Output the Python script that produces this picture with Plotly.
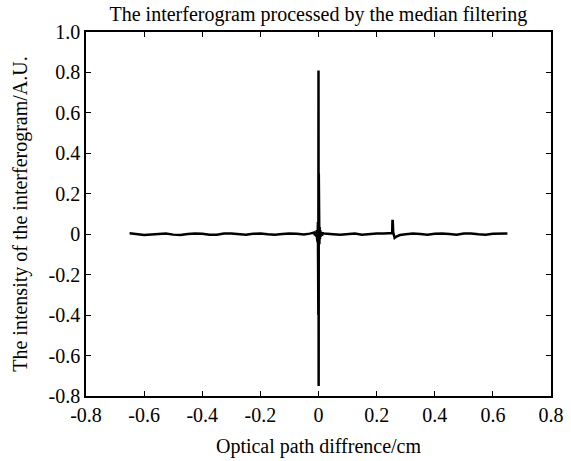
import plotly.graph_objects as go

# Optical path difference (cm) and interferogram intensity (A.U.)
x_left = [-0.65, -0.625, -0.6, -0.575, -0.55, -0.525, -0.5, -0.475, -0.45, -0.425, -0.4,
          -0.375, -0.35, -0.325, -0.3, -0.275, -0.25, -0.225, -0.2, -0.175, -0.15, -0.125,
          -0.1, -0.075, -0.05, -0.03, -0.02]
y_left = [0.005, 0.001, -0.004, -0.001, 0.003, 0.004, -0.002, -0.004, 0.001, 0.004, 0.002,
          -0.003, -0.002, 0.003, 0.004, -0.001, -0.003, 0.002, 0.004, 0.000, -0.003, 0.001,
          0.004, 0.002, -0.001, 0.003, 0.006]

x_center = [-0.015, -0.012, -0.01, -0.008, -0.006, -0.005, -0.004, -0.003, -0.002, -0.0015,
            -0.001, -0.0005, 0.0, 0.0005, 0.001, 0.0015, 0.002, 0.003, 0.004, 0.005, 0.006,
            0.008, 0.01, 0.012, 0.015]
y_center = [0.008, -0.006, 0.012, -0.012, 0.02, -0.02, 0.03, -0.04, 0.06, -0.11,
            0.29, -0.4, 0.81, -0.75, 0.3, -0.12, 0.07, -0.05, 0.035, -0.025, 0.02,
            -0.012, 0.01, -0.006, 0.005]

x_mid = [0.02, 0.03, 0.05, 0.075, 0.1, 0.125, 0.15, 0.175, 0.2, 0.225, 0.24, 0.25,
         0.2535, 0.2545, 0.2555, 0.257, 0.262, 0.27, 0.28]
y_mid = [0.004, 0.002, 0.000, -0.003, 0.001, 0.003, -0.002, 0.002, 0.003, 0.004, 0.004, 0.005,
         0.006, 0.066, 0.066, 0.01, -0.018, -0.01, -0.004]

x_right = [0.3, 0.325, 0.35, 0.375, 0.4, 0.425, 0.45, 0.475, 0.5, 0.525, 0.55, 0.575,
           0.6, 0.625, 0.65]
y_right = [0.000, 0.003, 0.001, -0.002, 0.002, 0.004, 0.001, -0.002, 0.003, 0.004, 0.000,
           -0.002, 0.002, 0.003, 0.004]

x_all = x_left + x_center + x_mid + x_right
y_all = y_left + y_center + y_mid + y_right

x_ticks = [-0.8, -0.6, -0.4, -0.2, 0, 0.2, 0.4, 0.6, 0.8]
x_ticktext = ["-0.8", "-0.6", "-0.4", "-0.2", "0", "0.2", "0.4", "0.6", "0.8"]
y_ticks = [-0.8, -0.6, -0.4, -0.2, 0, 0.2, 0.4, 0.6, 0.8, 1.0]
y_ticktext = ["-0.8", "-0.6", "-0.4", "-0.2", "0", "0.2", "0.4", "0.6", "0.8", "1.0"]

font_family = "Liberation Serif"
fs = 20

fig = go.Figure()
fig.add_trace(go.Scatter(x=x_all, y=y_all, mode="lines",
                         line=dict(color="black", width=2.5), showlegend=False,
                         hoverinfo="skip"))

fig.update_layout(
    width=571, height=461,
    margin=dict(l=86, r=20, t=32, b=65),
    paper_bgcolor="white", plot_bgcolor="white",
    font=dict(family=font_family, size=fs, color="black"),
    title=dict(text="The interferogram processed by the median filtering",
               x=0.5575, xanchor="center", y=0.969, yanchor="middle",
               font=dict(family=font_family, size=fs, color="black")),
    xaxis=dict(range=[-0.8, 0.8], tickvals=x_ticks, ticktext=x_ticktext,
               automargin=False,
               showgrid=False, zeroline=False, showline=True, linecolor="black",
               linewidth=1.5, mirror="ticks", ticks="inside", ticklen=5,
               tickcolor="black", tickwidth=1.2,
               tickfont=dict(family=font_family, size=fs),
               title=dict(text="Optical path diffrence/cm", standoff=14,
                          font=dict(family=font_family, size=fs))),
    yaxis=dict(range=[-0.8, 1.0], tickvals=y_ticks, ticktext=y_ticktext,
               automargin=False,
               showgrid=False, zeroline=False, showline=True, linecolor="black",
               linewidth=1.5, mirror="ticks", ticks="inside", ticklen=5,
               tickcolor="black", tickwidth=1.2,
               tickfont=dict(family=font_family, size=fs),
               title=dict(text="The intensity of the interferogram/A.U.", standoff=16,
                          font=dict(family=font_family, size=fs))),
)

fig.write_html("out.html",
               config={"displayModeBar": False},
               post_script="document.body.style.margin='0';document.body.style.overflow='hidden';")
